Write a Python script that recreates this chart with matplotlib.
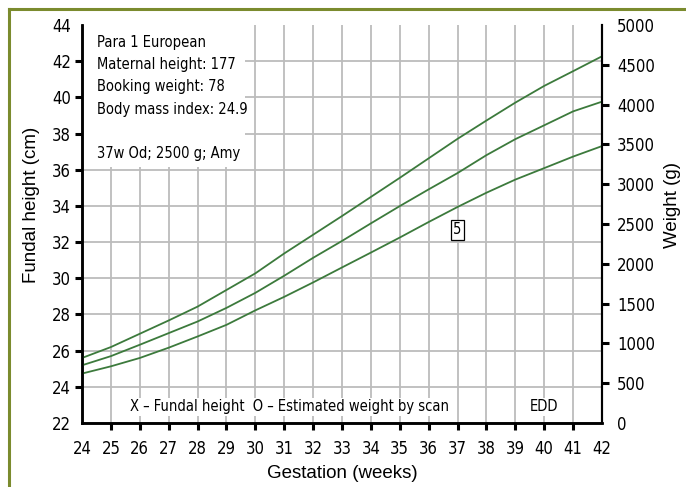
import matplotlib
matplotlib.use("Agg")
import matplotlib.pyplot as plt
from matplotlib import font_manager as fm
from matplotlib.lines import Line2D
from matplotlib.patches import Rectangle

# gestation weeks and the three weight centile curves (g)
weeks = [24, 25, 26, 27, 28, 29, 30, 31, 32, 33, 34, 35, 36, 37, 38, 39, 40, 41, 42]
upper = [817, 954, 1121, 1288, 1462, 1671, 1880, 2130, 2365, 2600, 2840, 3080,
         3325, 3570, 3800, 4025, 4235, 4420, 4607]
middle = [725, 840, 983, 1129, 1275, 1446, 1635, 1850, 2075, 2287, 2508, 2725,
          2935, 3140, 3365, 3566, 3740, 3915, 4037]
lower = [621, 712, 817, 946, 1087, 1233, 1415, 1585, 1766, 1954, 2141, 2330,
         2525, 2714, 2893, 3058, 3202, 3347, 3479]

fundal_ticks = list(range(22, 45, 2))
weight_ticks = list(range(0, 5001, 500))

info = "Para 1 European\nMaternal height: 177\nBooking weight: 78\nBody mass index: 24.9\n\n37w Od; 2500 g; Amy"

# pick a condensed face if there is one
fonts = fm.fontManager.ttflist
names = {f.name for f in fonts}
if 'Liberation Sans Narrow' in names:
    fam, stretch, base = 'Liberation Sans Narrow', 'normal', 12.5
elif any(f.name == 'DejaVu Sans' and 'condensed' in str(f.stretch) for f in fonts):
    fam, stretch, base = 'DejaVu Sans', 'condensed', 12
elif 'Roboto Condensed' in names:
    fam, stretch, base = 'Roboto Condensed', 'normal', 12.5
else:
    fam, stretch, base = 'Liberation Sans', 'normal', 11
tick_font = fm.FontProperties(family=fam, stretch=stretch, size=base)
text_font = fm.FontProperties(family=fam, stretch=stretch, size=base - 1.5)
label_font = ['Liberation Sans', 'DejaVu Sans']
green = '#3c7a3c'
grid_c = '#bcbcbc'

fig = plt.figure(figsize=(6.86, 4.87), dpi=100)
ax = fig.add_axes([82/686, 64/487, 520/686, 398/487])
ax2 = ax.twinx()

ax.set_xlim(24, 42)
ax.set_ylim(22, 44)
ax2.set_ylim(0, 5000)

ax.set_xticks(weeks)
ax.set_yticks(fundal_ticks)
ax2.set_yticks(weight_ticks)

ax.grid(True, color=grid_c, linewidth=1.3)
ax.set_axisbelow(True)

for a in (ax, ax2):
    a.spines['top'].set_visible(False)
    for s in a.spines.values():
        s.set_linewidth(1.8)
ax.spines['right'].set_linewidth(1.5)
ax2.spines['right'].set_linewidth(1.5)

ax.tick_params(axis='y', length=5, width=2.2, pad=3)
ax.tick_params(axis='x', length=5, width=2.2, pad=7)
ax2.tick_params(axis='y', length=5, width=2.2, pad=6)
for lab in ax.get_xticklabels() + ax.get_yticklabels() + ax2.get_yticklabels():
    lab.set_fontproperties(tick_font)

# no tick dashes / gridlines at the corners
for t in (ax.yaxis.get_major_ticks()[0], ax.yaxis.get_major_ticks()[-1],
          ax.xaxis.get_major_ticks()[0], ax.xaxis.get_major_ticks()[-1],
          ax2.yaxis.get_major_ticks()[0], ax2.yaxis.get_major_ticks()[-1]):
    t.tick1line.set_visible(False)
    t.tick2line.set_visible(False)
ax.yaxis.get_major_ticks()[-1].gridline.set_visible(False)

for series in (upper, middle, lower):
    ax2.plot(weeks, series, color=green, linewidth=1.3)

ax.set_ylabel("Fundal height (cm)", family=label_font, fontsize=13.5)
ax2.set_ylabel("Weight (g)", family=label_font, fontsize=13.5)
ax.set_xlabel("Gestation (weeks)", family=label_font, fontsize=13.5, labelpad=5)
ax.yaxis.set_label_coords(-0.081, 0.548)
ax2.yaxis.set_label_coords(1.119, 0.548)

# white info box
ax.add_patch(Rectangle((0, 0.643), 0.313, 0.357, transform=ax.transAxes,
                       facecolor='white', edgecolor='none', zorder=1.5))
ax.text(0.029, 0.975, info, transform=ax.transAxes, ha='left', va='top',
        fontproperties=text_font, linespacing=1.6, zorder=3)

ax.text(25.66, 22.9, "X \u2013 Fundal height  O \u2013 Estimated weight by scan",
        ha='left', va='center', fontproperties=text_font, zorder=3,
        bbox=dict(facecolor='white', edgecolor='none', pad=1))
ax.text(40, 22.9, "EDD", ha='center', va='center', fontproperties=text_font,
        zorder=3, bbox=dict(facecolor='white', edgecolor='none', pad=1))
ax2.text(37, 2425, "5", ha='center', va='center', fontproperties=text_font,
         bbox=dict(facecolor='white', edgecolor='black', linewidth=0.9, pad=1.5))

# olive frame
frame_c = '#7b8b2e'
fig.add_artist(Line2D([9/686, 9/686], [0, 1 - 9/487], color=frame_c, linewidth=2.2))
fig.add_artist(Line2D([9/686, 1], [1 - 9/487, 1 - 9/487], color=frame_c, linewidth=2.2))

fig.savefig("out.png", dpi=100)
